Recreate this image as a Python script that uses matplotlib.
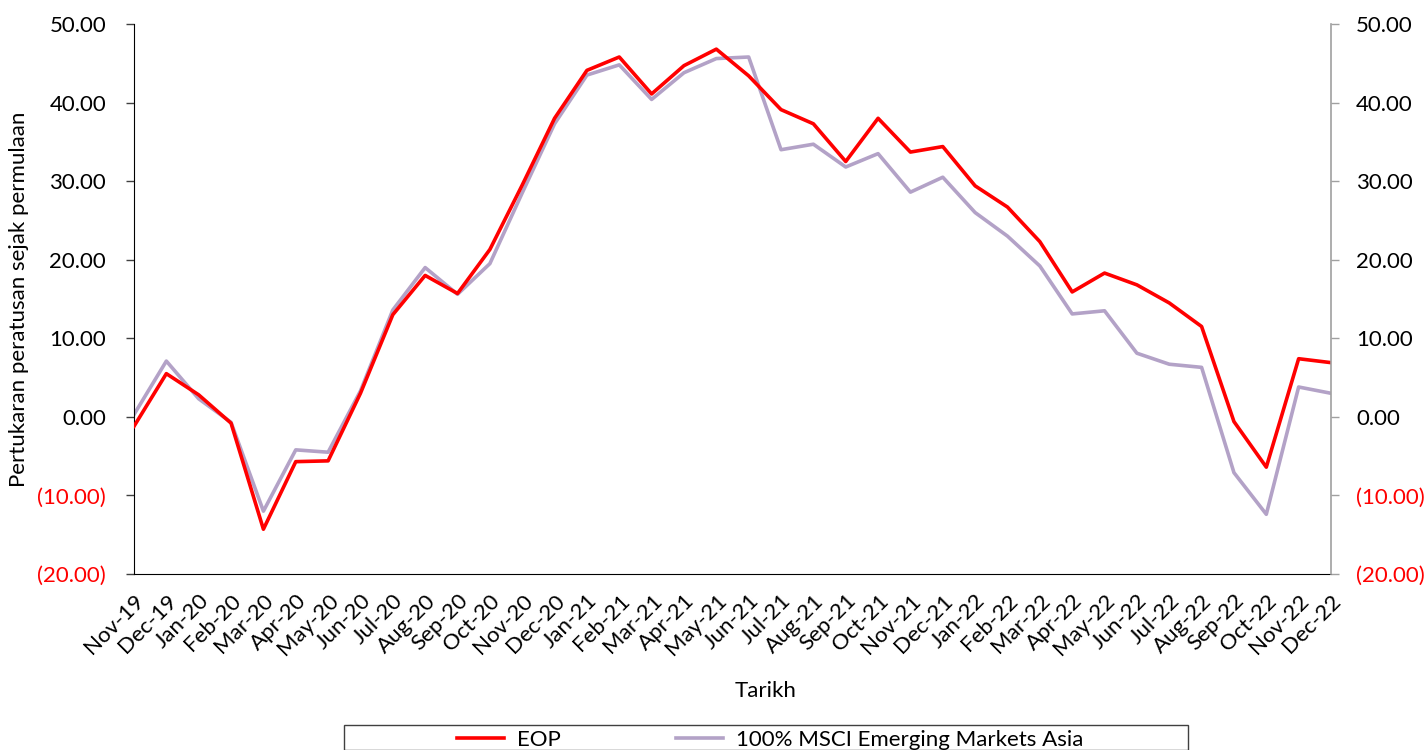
import matplotlib
matplotlib.use("Agg")
import matplotlib.pyplot as plt
from matplotlib.patches import Rectangle

plt.rcParams['font.family'] = ['Lato', 'DejaVu Sans']

months = ["Nov-19", "Dec-19", "Jan-20", "Feb-20", "Mar-20", "Apr-20", "May-20", "Jun-20",
          "Jul-20", "Aug-20", "Sep-20", "Oct-20", "Nov-20", "Dec-20", "Jan-21", "Feb-21",
          "Mar-21", "Apr-21", "May-21", "Jun-21", "Jul-21", "Aug-21", "Sep-21", "Oct-21",
          "Nov-21", "Dec-21", "Jan-22", "Feb-22", "Mar-22", "Apr-22", "May-22", "Jun-22",
          "Jul-22", "Aug-22", "Sep-22", "Oct-22", "Nov-22", "Dec-22"]

eop = [-1.2, 5.5, 2.8, -0.8, -14.3, -5.7, -5.6, 3.0, 13.0, 18.0, 15.7, 21.3, 29.5, 38.0,
       44.1, 45.8, 41.1, 44.7, 46.8, 43.4, 39.1, 37.3, 32.5, 38.0, 33.7, 34.4, 29.4, 26.7,
       22.3, 15.9, 18.3, 16.8, 14.5, 11.5, -0.6, -6.4, 7.4, 6.9]

msci = [0.3, 7.1, 2.3, -0.7, -12.0, -4.2, -4.5, 3.3, 13.6, 19.0, 15.6, 19.5, 28.5, 37.3,
        43.5, 44.8, 40.4, 43.8, 45.6, 45.8, 34.0, 34.7, 31.8, 33.5, 28.6, 30.5, 26.0, 23.0,
        19.2, 13.1, 13.5, 8.1, 6.7, 6.3, -7.1, -12.4, 3.8, 3.0]

yticks = [-20, -10, 0, 10, 20, 30, 40, 50]

RED = "#FF0000"
LAV = "#B3A2C7"
FS = 16

fig = plt.figure(figsize=(14.28, 7.5), dpi=100)
ax = fig.add_axes([134/1428, 1 - 574/750, (1331 - 134)/1428, (574 - 24)/750])

x = list(range(len(months)))
l1, = ax.plot(x, eop, color=RED, lw=2.6, label="EOP", zorder=3)
l2, = ax.plot(x, msci, color=LAV, lw=2.6, label="100% MSCI Emerging Markets Asia", zorder=2)

ax.set_xlim(0, len(months) - 1)
ax.set_ylim(-20, 50)
ax.set_yticks(yticks)

def fmt(v):
    return f"({abs(v):.2f})" if v < 0 else f"{v:.2f}"

ax.set_yticklabels([fmt(v) for v in yticks], fontsize=FS)
for lab, v in zip(ax.get_yticklabels(), yticks):
    lab.set_color(RED if v < 0 else "black")
ax.tick_params(axis='y', direction='out', length=6, width=1, color="#404040", pad=14)

ax.set_xticks(x)
ax.set_xticklabels(months, rotation=45, ha='right', rotation_mode='anchor', fontsize=FS)
ax.tick_params(axis='x', length=0, pad=12)

ax2 = ax.twinx()
ax2.set_ylim(-20, 50)
ax2.set_yticks(yticks)
ax2.set_yticklabels([fmt(v) for v in yticks], fontsize=FS)
for lab, v in zip(ax2.get_yticklabels(), yticks):
    lab.set_color(RED if v < 0 else "black")
ax2.tick_params(axis='y', direction='out', length=6, width=1, color="#A0A0A0", pad=12)

for a in (ax, ax2):
    a.spines['top'].set_visible(False)
ax.spines['right'].set_visible(False)
ax2.spines['left'].set_visible(False)
ax2.spines['bottom'].set_visible(False)
ax2.spines['right'].set_color("#A0A0A0")
ax2.spines['right'].set_linewidth(1.2)

ax.set_ylabel("Pertukaran peratusan sejak permulaan", fontsize=FS, labelpad=6)
fig.text(766/1428, 1 - 691/750, "Tarikh", ha='center', va='center', fontsize=FS)

# legend box
fig.patches.append(Rectangle((344/1428, 0), (1188 - 344)/1428, 1 - 725/750,
                             transform=fig.transFigure, fill=False, edgecolor="#404040",
                             lw=1.0))
fig.legend(handles=[l1, l2], loc='center left', bbox_to_anchor=(457/1428, 1 - 740/750),
           ncol=2, frameon=False, fontsize=FS, handlelength=2.1, handletextpad=0.6,
           columnspacing=5.2, borderaxespad=0, borderpad=0)

fig.savefig("out.png", dpi=100)
